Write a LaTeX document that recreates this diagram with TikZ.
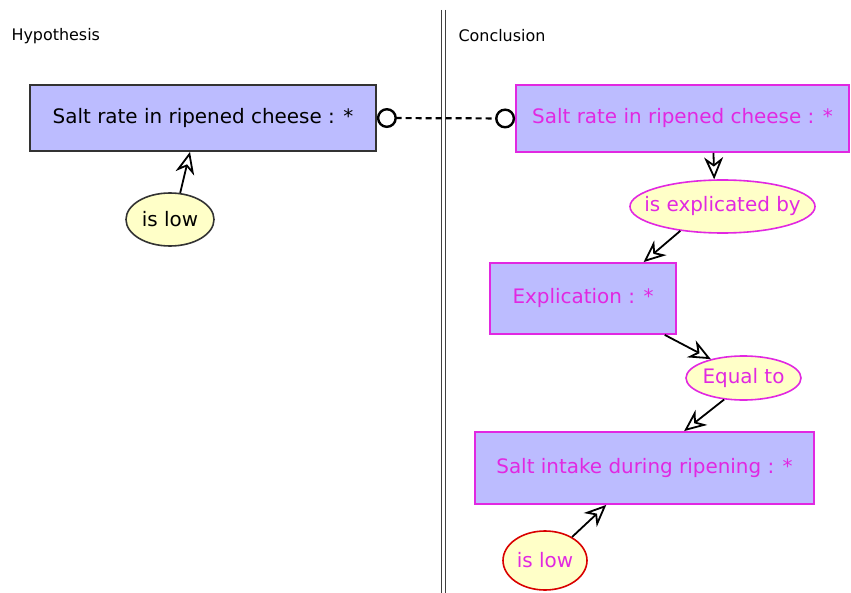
\documentclass[tikz,border=0pt]{standalone}
\usepackage{fontspec}
\setmainfont{DejaVu Sans}
\usetikzlibrary{positioning}
\usetikzlibrary{arrows.meta}
\usetikzlibrary{shapes.geometric}
\definecolor{concept}{RGB}{188,188,255}
\definecolor{relation}{RGB}{255,255,200}
\definecolor{concl}{RGB}{225,40,225}
\newcommand{\reltxt}[1]{\makebox[0pt]{#1}}

\begin{document}
\begin{tikzpicture}[x=1bp,y=-1bp,
    box/.style={draw=black!80, line width=1.8bp, fill=concept, inner sep=0pt, font=\fontsize{20}{24}\selectfont},
    rel/.style={draw=black!80, line width=1.6bp, fill=relation, ellipse, inner sep=0pt, font=\fontsize{20}{24}\selectfont},
    cbox/.style={box, draw=concl, text=concl},
    crel/.style={rel, draw=concl, text=concl},
    link/.style={draw, line width=1.8bp, -{Stealth[open, length=22bp, width=19bp, inset=7bp]}}]
    \useasboundingbox (0,0) rectangle (851,593);
    % headers and divider
    \node[anchor=west, font=\fontsize{16}{19}\selectfont] (hyp) at (8,36) {Hypothesis};
    \node[anchor=west, font=\fontsize{16}{19}\selectfont] (conc) at (455,36) {Conclusion};
    \path[draw, black!75, line width=1.1bp] (441.5,10) -- (441.5,593);
    \path[draw, black!75, line width=1.1bp] (445.5,10) -- (445.5,593);
    % hypothesis
    \node[box, minimum width=346bp, minimum height=66bp] (h1) at (203,118) {Salt rate in ripened cheese : *};
    \node[rel, minimum width=88bp, minimum height=53bp] (hlow) at (170,219.5) {\reltxt{is low}};
    % conclusion
    \node[cbox, minimum width=333bp, minimum height=67bp] (c1) at (682.5,118.5) {Salt rate in ripened cheese : *};
    \node[crel, minimum width=185bp, minimum height=53bp] (cexp) at (722.5,206.5) {\reltxt{is explicated by}};
    \node[cbox, minimum width=186bp, minimum height=71bp] (c2) at (583,298.5) {Explication : *};
    \node[crel, minimum width=115bp, minimum height=44bp] (ceq) at (743.5,378) {\reltxt{Equal to}};
    \node[cbox, minimum width=339bp, minimum height=72bp] (c3) at (644.5,468) {Salt intake during ripening : *};
    \node[crel, draw=red!85!black, minimum width=84bp, minimum height=59bp] (clow) at (545,560.5) {\reltxt{is low}};
    % links
    \path[link] (hlow.69) -- (h1.-111.5);
    \path[link] (c1.-48.6) -- (cexp.107.8);
    \path[link] (cexp.-150) -- (c2.31.9);
    \path[link] (c2.-24.8) -- (ceq.150);
    \path[link] (ceq.-132) -- (c3.43.1);
    \path[link] (clow.41.2) -- (c3.-136.9);
    \path[draw, line width=2.2bp, dash pattern=on 6bp off 4bp,
        {Circle[open, length=20bp, line width=2.4bp]}-{Circle[open, length=20bp, line width=2.4bp]}] (h1.east) -- (c1.west);
\end{tikzpicture}
\end{document}
